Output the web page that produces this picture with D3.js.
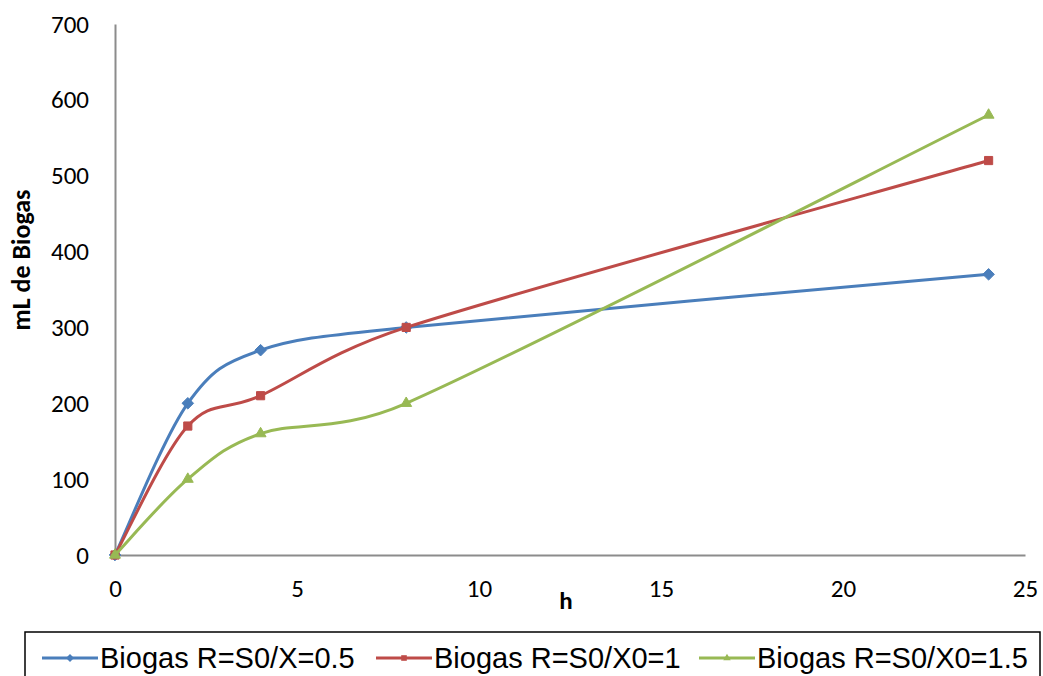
<!DOCTYPE html>
<html>
<head>
<meta charset="utf-8">
<script src="https://cdn.jsdelivr.net/npm/d3@7"></script>
<style>
  html, body { margin: 0; padding: 0; background: #fff; }
  svg { display: block; }
</style>
</head>
<body>
<svg id="chart" width="1043" height="676"></svg>
<script>
// Sampling times (h)
const hours = [0, 2, 4, 8, 24];
// Cumulative biogas volume (mL) for each substrate/inoculum ratio
const biogasR05 = [0, 200, 270, 300, 370];
const biogasR1 = [0, 170, 210, 300, 520];
const biogasR15 = [0, 100, 160, 200, 580];
const seriesNames = ["Biogas R=S0/X=0.5", "Biogas R=S0/X0=1", "Biogas R=S0/X0=1.5"];
const xTicks = [0, 5, 10, 15, 20, 25];
const yTicks = [0, 100, 200, 300, 400, 500, 600, 700];

const series = [
  { name: seriesNames[0], values: biogasR05, color: "#4A7EBB", symbol: d3.symbolDiamond2 },
  { name: seriesNames[1], values: biogasR1, color: "#BE4B48", symbol: d3.symbolSquare2 },
  { name: seriesNames[2], values: biogasR15, color: "#98B954", symbol: d3.symbolTriangle2 }
];

const svg = d3.select("#chart");
const x = d3.scaleLinear().domain([0, 25]).range([115, 1025]);
const y = d3.scaleLinear().domain([0, 700]).range([555, 24]);

const tickFont = "Carlito, Calibri, 'Open Sans', sans-serif";

// Axes
const xAxis = svg.append("g").attr("transform", `translate(0,${y(0)})`)
  .call(d3.axisBottom(x).tickValues(xTicks).tickSize(0).tickPadding(24));
const yAxis = svg.append("g").attr("transform", `translate(${x(0)},0)`)
  .call(d3.axisLeft(y).tickValues(yTicks).tickSize(0).tickPadding(26));
[xAxis, yAxis].forEach(g => {
  g.select(".domain").attr("stroke", "#8c8c8c").attr("stroke-width", 2);
  g.selectAll("text").attr("font-family", tickFont).attr("font-size", 25).attr("fill", "#000");
});

// Axis titles
svg.append("text")
  .attr("x", 566).attr("y", 609)
  .attr("text-anchor", "middle")
  .attr("font-family", tickFont).attr("font-weight", "bold").attr("font-size", 25)
  .text("h");
svg.append("text")
  .attr("transform", "translate(30,260) rotate(-90)")
  .attr("text-anchor", "middle")
  .attr("font-family", tickFont).attr("font-weight", "bold").attr("font-size", 26)
  .text("mL de Biogas");

// Spreadsheet-style smoothing: Bezier segments with 1/6 tangent factor,
// shortened when a neighbouring chord is much longer than the segment.
function SmoothCurve(context) { this._context = context; }
SmoothCurve.prototype = {
  areaStart() {}, areaEnd() {},
  lineStart() { this._pts = []; },
  point(px, py) { this._pts.push([+px, +py]); },
  lineEnd() {
    const p = this._pts, n = p.length, c = this._context;
    if (!n) return;
    c.moveTo(p[0][0], p[0][1]);
    const dist = (a, b) => Math.hypot(b[0] - a[0], b[1] - a[1]);
    for (let i = 0; i < n - 1; i++) {
      const p0 = p[Math.max(i - 1, 0)], p1 = p[i], p2 = p[i + 1], p3 = p[Math.min(i + 2, n - 1)];
      const d12 = dist(p1, p2), d02 = dist(p0, p2), d13 = dist(p1, p3);
      const f1 = (d02 / 6 < d12 / 2) ? 1 / 6 : d12 / d02 / 2;
      const f2 = (d13 / 6 < d12 / 2) ? 1 / 6 : d12 / d13 / 2;
      c.bezierCurveTo(
        p1[0] + (p2[0] - p0[0]) * f1, p1[1] + (p2[1] - p0[1]) * f1,
        p2[0] - (p3[0] - p1[0]) * f2, p2[1] - (p3[1] - p1[1]) * f2,
        p2[0], p2[1]);
    }
  }
};
const smoothCurve = context => new SmoothCurve(context);

const line = d3.line()
  .x((d, i) => x(hours[i]))
  .y(d => y(d))
  .curve(smoothCurve);

series.forEach(s => {
  svg.append("path")
    .datum(s.values)
    .attr("d", line)
    .attr("fill", "none")
    .attr("stroke", s.color)
    .attr("stroke-width", 3);
  svg.append("g").selectAll("path")
    .data(s.values)
    .join("path")
    .attr("transform", (d, i) => `translate(${x(hours[i])},${y(d)})`)
    .attr("d", d3.symbol().type(s.symbol).size(85))
    .attr("fill", s.color)
    .attr("stroke", s.color)
    .attr("stroke-width", 1);
});

// Legend
const legend = svg.append("g");
legend.append("rect")
  .attr("x", 25).attr("y", 632).attr("width", 1015).attr("height", 60)
  .attr("fill", "#fff").attr("stroke", "#000").attr("stroke-width", 1.5);
const legendX = [42, 376, 699];
series.forEach((s, i) => {
  const g = legend.append("g").attr("transform", `translate(${legendX[i]},658)`);
  g.append("line").attr("x1", 0).attr("x2", 56).attr("y1", 0).attr("y2", 0)
    .attr("stroke", s.color).attr("stroke-width", 3);
  g.append("path").attr("transform", "translate(28,0)")
    .attr("d", d3.symbol().type(s.symbol).size(40)).attr("fill", s.color);
  g.append("text").attr("x", 58).attr("y", 10)
    .attr("font-family", "'Liberation Sans', Arial, sans-serif").attr("font-size", 29)
    .attr("fill", "#000")
    .text(s.name);
});
</script>
</body>
</html>
